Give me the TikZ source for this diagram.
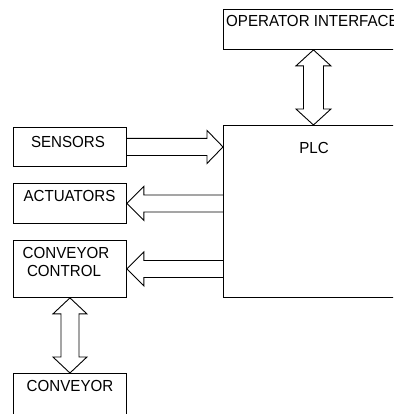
\documentclass[tikz,border=0pt]{standalone}
\usepackage{fontspec}
\setmainfont{Liberation Sans}[FakeStretch=0.945]
\usetikzlibrary{calc}
\begin{document}
\begin{tikzpicture}[x=1pt,y=-1pt,
  box/.style={draw=black,line width=0.9pt,rectangle,inner sep=0pt,anchor=north west},
  lbl/.style={inner sep=0pt,font=\fontsize{16}{17.7}\selectfont,text=black},
  arr/.style={draw=black,line width=0.9pt,line join=miter}]
\fill[white] (0,0) rectangle (393,414);
\useasboundingbox (0,0) rectangle (393,414);
\clip (0,0) rectangle (393,414);
% boxes
\node[box,minimum width=180pt,minimum height=40pt] (opi) at (223,9) {};
\node[box,minimum width=180pt,minimum height=172pt] (plc) at (223,125) {};
\node[box,minimum width=113pt,minimum height=39pt] (sens) at (13,127) {};
\node[box,minimum width=113pt,minimum height=40pt] (act) at (13,183) {};
\node[box,minimum width=113pt,minimum height=57pt] (cc) at (13,240) {};
\node[box,minimum width=113pt,minimum height=60pt] (conv) at (13,373) {};
% texts
\node[lbl,anchor=base west] (opit) at (226,27) {OPERATOR INTERFACE};
\node[lbl,anchor=base] (plct) at (314,153.3) {PLC};
\node[lbl,anchor=base] (senst) at (68,147.7) {SENSORS};
\node[lbl,anchor=base] (actt) at (69.5,201.7) {ACTUATORS};
\node[lbl,anchor=base] (cct1) at (66,258.3) {CONVEYOR};
\node[lbl,anchor=base] (cct2) at (64,276) {CONTROL};
\node[lbl,anchor=base] (convt) at (70,391) {CONVEYOR};
% sensors -> plc
\coordinate (st) at (plc.west |- sens.east);
\draw[arr] ($(sens.east)+(0,-8.5)$) -- ($(st)+(-16,-8.5)$) -- ($(st)+(-16,-16.5)$) -- (st)
  -- ($(st)+(-16,16.5)$) -- ($(st)+(-16,8.5)$) -- ($(sens.east)+(0,8.5)$);
% plc -> actuators
\coordinate (ab) at (plc.west |- act.east);
\draw[arr] ($(ab)+(0,-8.5)$) -- ($(act.east)+(17,-8.5)$) -- ($(act.east)+(17,-17)$) -- (act.east)
  -- ($(act.east)+(17,17)$) -- ($(act.east)+(17,8.5)$) -- ($(ab)+(0,8.5)$);
% plc -> conveyor control
\coordinate (cb) at (plc.west |- cc.east);
\draw[arr] ($(cb)+(0,-8.5)$) -- ($(cc.east)+(17,-8.5)$) -- ($(cc.east)+(17,-17)$) -- (cc.east)
  -- ($(cc.east)+(17,17)$) -- ($(cc.east)+(17,8.5)$) -- ($(cb)+(0,8.5)$);
% operator interface <-> plc
\draw[arr] (opi.south) -- ++(17.5,16) -- ++(-7.5,0) -- ($(plc.north)+(10,-16)$) -- ++(7.5,0) -- (plc.north)
  -- ++(-17.5,-16) -- ++(7.5,0) -- ($(opi.south)+(-10,16)$) -- ++(-7.5,0) -- cycle;
% conveyor control <-> conveyor
\draw[arr] (cc.south) -- ++(17,16) -- ++(-8,0) -- ($(conv.north)+(9,-16)$) -- ++(8,0) -- (conv.north)
  -- ++(-17,-16) -- ++(8,0) -- ($(cc.south)+(-9,16)$) -- ++(-8,0) -- cycle;
\end{tikzpicture}
\end{document}
